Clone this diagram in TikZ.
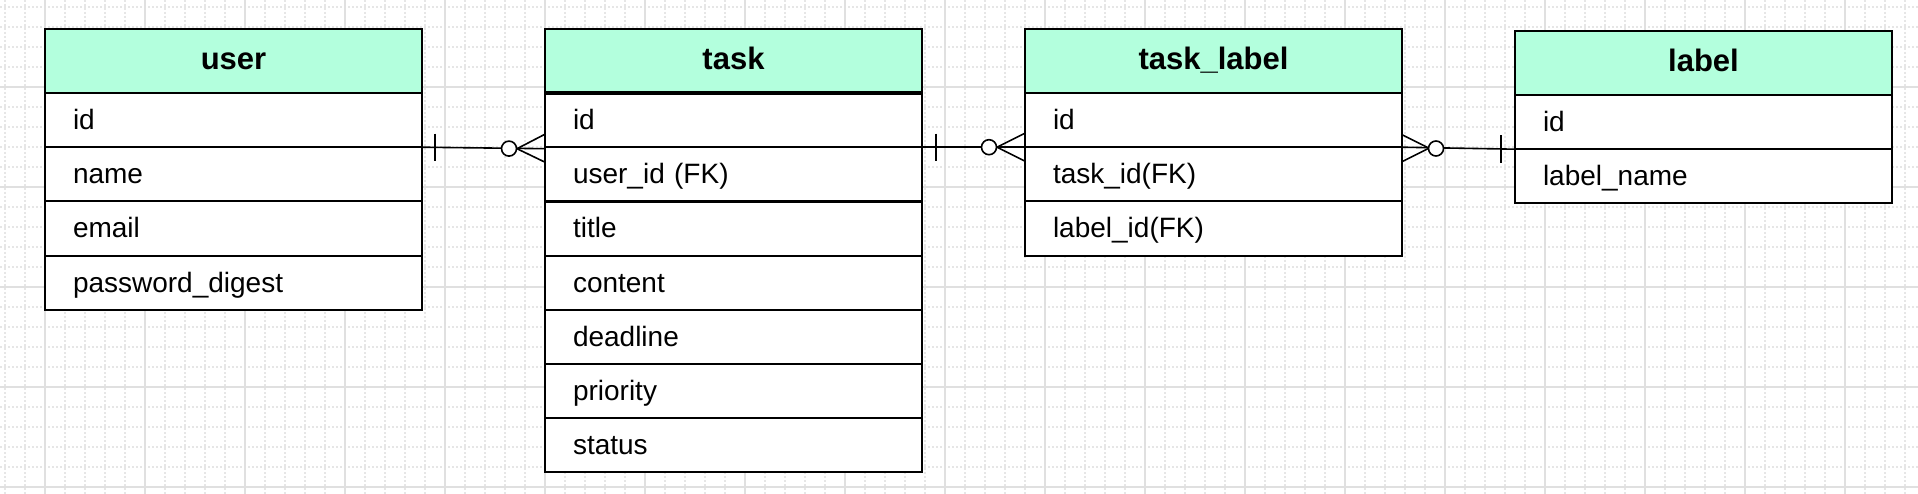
\documentclass[tikz,border=0pt]{standalone}
\usepackage{fontspec}
\setmainfont{Liberation Sans}
\usetikzlibrary{positioning,calc}
\definecolor{hdr}{RGB}{179,255,221}
\definecolor{gridmaj}{RGB}{224,224,224}
\definecolor{gridmin}{RGB}{230,230,230}
\begin{document}
\begin{tikzpicture}[x=1pt,y=-1pt,
  tabhead/.style={draw=black, line width=2pt, fill=hdr, minimum height=64pt, inner xsep=28pt, inner ysep=0pt, text width=321pt, align=center, font=\fontsize{31}{36}\selectfont\bfseries, text height=20pt, text depth=2pt, outer sep=0pt},
  tabrow/.style={draw=black, line width=2pt, fill=white, minimum height=54.2pt, inner xsep=28pt, inner ysep=0pt, text width=321pt, align=left, font=\fontsize{28}{32}\selectfont, text height=21pt, text depth=2pt, outer sep=0pt},
  conn/.style={draw=black, line width=1.6pt},
  gminor/.style={draw=gridmin, line width=1.5pt, dash pattern=on 2pt off 2pt},
  gmajor/.style={draw=gridmaj, line width=2pt},
  thicksep/.style={draw=black, line width=3.4pt}
]
\useasboundingbox (0,0) rectangle (1918,494);
\fill[white] (0,0) rectangle (1918,494);
% grid
\foreach \x in {5,25,...,1905} \draw[gminor] (\x,0) -- (\x,494);
\foreach \y in {7,27,...,487} \draw[gminor] (0,\y) -- (1918,\y);
\foreach \x in {45,145,...,1845} \draw[gmajor] (\x,0) -- (\x,494);
\foreach \y in {87,187,...,487} \draw[gmajor] (0,\y) -- (1918,\y);

% user table
\node[tabhead, anchor=north west] (user-h) at (45,29) {user};
\node[tabrow, below=0pt of user-h] (user-id) {id};
\node[tabrow, below=0pt of user-id] (user-name) {name};
\node[tabrow, below=0pt of user-name] (user-email) {email};
\node[tabrow, below=0pt of user-email] (user-pw) {password\_digest};

% task table
\node[tabhead, anchor=north west] (task-h) at (545,29) {task};
\node[tabrow, below=0pt of task-h] (task-id) {id};
\node[tabrow, below=0pt of task-id] (task-uid) {user\_id (FK)};
\node[tabrow, below=0pt of task-uid] (task-title) {title};
\node[tabrow, below=0pt of task-title] (task-content) {content};
\node[tabrow, below=0pt of task-content] (task-deadline) {deadline};
\node[tabrow, below=0pt of task-deadline] (task-priority) {priority};
\node[tabrow, below=0pt of task-priority] (task-status) {status};
\draw[thicksep] (task-h.south west) -- (task-h.south east);
\draw[thicksep] (task-uid.south west) -- (task-uid.south east);

% task_label table
\node[tabhead, anchor=north west] (tl-h) at (1025,29) {task\_label};
\node[tabrow, below=0pt of tl-h] (tl-id) {id};
\node[tabrow, below=0pt of tl-id] (tl-tid) {task\_id(FK)};
\node[tabrow, below=0pt of tl-tid] (tl-lid) {label\_id(FK)};

% label table
\node[tabhead, anchor=north west] (lb-h) at (1515,31) {label};
\node[tabrow, below=0pt of lb-h] (lb-id) {id};
\node[tabrow, below=0pt of lb-id] (lb-name) {label\_name};

% user -> task (one to zero-or-many)
\draw[conn] (user-id.south east) -- ($(task-id.south west)+(0,1.5)$);
\draw[conn] ($(user-id.south east)+(13,-13.5)$) -- ($(user-id.south east)+(13,13.5)$);
\draw[conn] ($(task-id.south west)+(0,-13)$) -- ($(task-id.south west)+(-28,1.5)$) -- ($(task-id.south west)+(0,15)$);
\draw[conn, fill=white] ($(task-id.south west)+(-36,1.4)$) circle[radius=7.5pt];

% task -> task_label
\draw[conn] (task-id.south east) -- (tl-id.south west);
\draw[conn] ($(task-id.south east)+(14,-13.5)$) -- ($(task-id.south east)+(14,13.5)$);
\draw[conn] ($(tl-id.south west)+(0,-14)$) -- ($(tl-id.south west)+(-28,0)$) -- ($(tl-id.south west)+(0,14)$);
\draw[conn, fill=white] ($(tl-id.south west)+(-36,0)$) circle[radius=7.5pt];

% task_label -> label
\draw[conn] (tl-id.south east) -- (lb-id.south west);
\draw[conn] ($(tl-id.south east)+(0,-12.5)$) -- ($(tl-id.south east)+(27,1)$) -- ($(tl-id.south east)+(0,14.5)$);
\draw[conn, fill=white] ($(tl-id.south east)+(34,1.3)$) circle[radius=7.5pt];
\draw[conn] ($(lb-id.south west)+(-14,-14)$) -- ($(lb-id.south west)+(-14,14)$);
\end{tikzpicture}
\end{document}
